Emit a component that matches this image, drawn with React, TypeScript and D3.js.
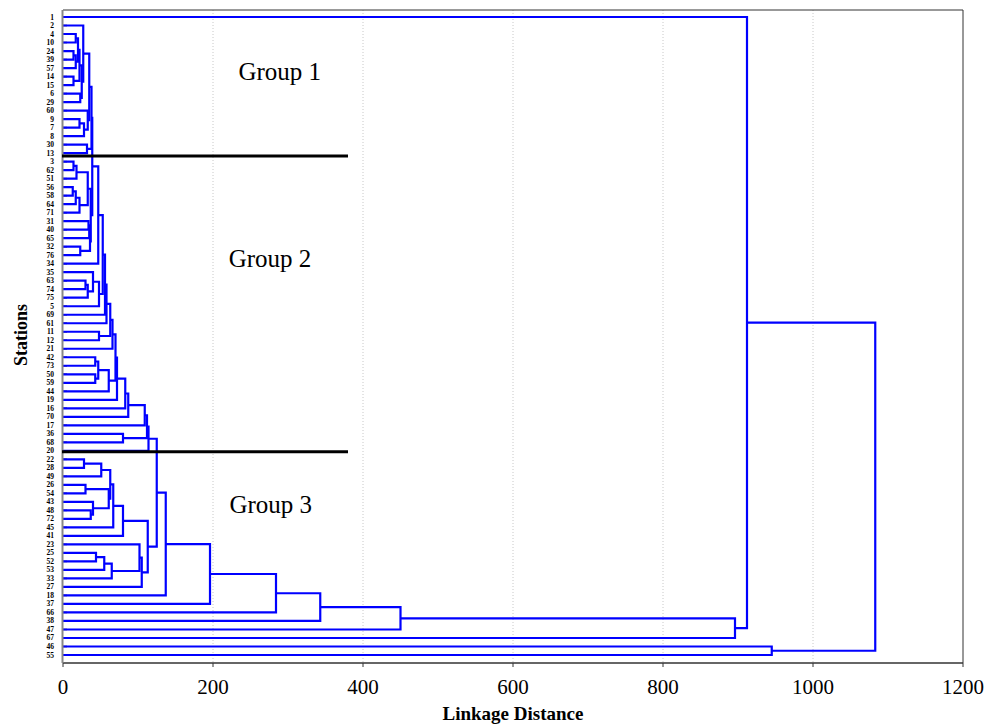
import React from 'react';
import * as d3 from 'd3';

const leafLabels: number[] = [
  1, 2, 4, 10, 24, 39, 57, 14, 15, 6, 29, 60, 9, 7, 8, 30, 13,
  3, 62, 51, 56, 58, 64, 71, 31, 40, 65, 32, 76, 34, 35, 63, 74, 75, 5, 69, 61, 11, 12, 21, 42, 73, 50, 59, 44, 19, 16, 70, 17, 36, 68,
  20, 22, 28, 49, 26, 54, 43, 48, 72, 45, 41, 23, 25, 52, 53, 33, 27, 18, 37, 66, 38, 47, 67, 46, 55,
];

// [id, childA, childB, linkage distance]
const group1Merges: [string, string | number, string | number, number][] = [
  ['a1', 4, 10, 17], ['a2', 24, 39, 14], ['a3', 'a2', 57, 17], ['a4', 'a1', 'a3', 20],
  ['a5', 14, 15, 14], ['a6', 'a4', 'a5', 22], ['a7', 6, 29, 23], ['a8', 'a6', 'a7', 25],
  ['b1', 2, 'a8', 27], ['a9', 9, 7, 22], ['a10', 'a9', 8, 28], ['a11', 60, 'a10', 33],
  ['b2', 'b1', 'a11', 35], ['a13', 30, 13, 32], ['b3', 'b2', 'a13', 38],
];
const group2Merges: [string, string | number, string | number, number][] = [
  ['c1', 3, 62, 14], ['c2', 'c1', 51, 18], ['c3', 56, 58, 13], ['c4', 'c3', 64, 17],
  ['c5', 'c4', 71, 22], ['c6', 'c2', 'c5', 33], ['c7', 32, 76, 23], ['c8', 31, 40, 34],
  ['c9', 'c8', 65, 35], ['c10', 'c9', 'c7', 36], ['c11', 'c6', 'c10', 37], ['c11b', 'b3', 'c11', 39],
  ['c12', 'c11b', 34, 47], ['c13', 63, 74, 30], ['c14', 'c13', 75, 33], ['c15', 35, 'c14', 40],
  ['c16', 'c15', 5, 48], ['c17', 'c12', 'c16', 53], ['c18', 'c17', 69, 56], ['c19', 11, 12, 48],
  ['c20', 'c18', 61, 58], ['c21', 'c20', 'c19', 63], ['c22', 'c21', 21, 66], ['c23', 42, 73, 43],
  ['c24', 50, 59, 43], ['c25', 'c23', 'c24', 47], ['c26', 'c25', 44, 61], ['c27', 'c22', 'c26', 70],
  ['c28', 'c27', 19, 72], ['c29', 'c28', 16, 83], ['c30', 'c29', 70, 87], ['c31', 'c30', 17, 109],
  ['c32', 36, 68, 80], ['c33', 'c31', 'c32', 112], ['c34', 'c33', 20, 114],
];
const group3Merges: [string, string | number, string | number, number][] = [
  ['g1', 22, 28, 28], ['g2', 'g1', 49, 51], ['g3', 26, 54, 30], ['g4', 48, 72, 37],
  ['g5', 43, 'g4', 40], ['g6', 'g3', 'g5', 61], ['g7', 'g2', 'g6', 63], ['g8', 'g7', 45, 67],
  ['g9', 'g8', 41, 80], ['h1', 25, 52, 44], ['h2', 'h1', 53, 55], ['h3', 'h2', 33, 65],
  ['h4', 23, 'h3', 102], ['h5', 'h4', 27, 105], ['h6', 'g9', 'h5', 113],
];
const topMerges: [string, string | number, string | number, number][] = [
  ['k1', 'c34', 'h6', 125], ['k2', 'k1', 18, 137], ['k3', 'k2', 37, 196], ['k4', 'k3', 66, 284],
  ['k5', 'k4', 38, 343], ['k6', 'k5', 47, 450], ['k7', 'k6', 67, 896], ['k8', 1, 'k7', 912],
  ['k9', 46, 55, 945], ['k10', 'k8', 'k9', 1083],
];

const xTicks = [0, 200, 400, 600, 800, 1000, 1200];
const gridTicks = [200, 400, 600, 800, 1000];
const groupNames = ['Group 1', 'Group 2', 'Group 3'];
const groupAnchorLeaves = [14, 34, 48];
const groupAnchorDistance = [289, 276, 277];
const dividerLeaves = [13, 20];
const dividerExtent = [0, 380];

export default function App() {
  const W = 991;
  const H = 724;
  const x = d3.scaleLinear().domain([0, 1200]).range([63, 963]);
  const y = d3.scalePoint<number>().domain(leafLabels).range([17, 655]);

  const pos = new Map<string, { x: number; y: number }>();
  leafLabels.forEach((l) => pos.set(String(l), { x: x(0), y: y(l)! }));
  const allMerges = [...group1Merges, ...group2Merges, ...group3Merges, ...topMerges];
  const paths: string[] = [];
  allMerges.forEach(([id, a, b, h]) => {
    const pa = pos.get(String(a))!;
    const pb = pos.get(String(b))!;
    const nx = x(h);
    const p = d3.path();
    p.moveTo(pa.x, pa.y);
    p.lineTo(nx, pa.y);
    p.lineTo(nx, pb.y);
    p.lineTo(pb.x, pb.y);
    paths.push(p.toString());
    pos.set(id, { x: nx, y: (pa.y + pb.y) / 2 });
  });

  const dividerY = [y(dividerLeaves[0])! + 3, y(dividerLeaves[1])! + 1];
  const top = 10;
  const bottom = 663;

  return (
    <svg width={W} height={H} style={{ position: 'absolute', left: 0, top: 0, background: '#fff' }}
      fontFamily="'Liberation Serif', 'Times New Roman', serif">
      <rect x={0} y={0} width={W} height={H} fill="#fff" />
      {gridTicks.map((t) => (
        <line key={t} x1={x(t)} x2={x(t)} y1={top} y2={bottom} stroke="#c8c8c8" strokeWidth={1} strokeDasharray="1,2" />
      ))}
      <line x1={x(0)} x2={x(1200)} y1={top} y2={top} stroke="#333" strokeWidth={1} />
      <line x1={x(1200)} x2={x(1200)} y1={top} y2={bottom} stroke="#333" strokeWidth={1} />
      <line x1={x(0)} x2={x(1200)} y1={bottom} y2={bottom} stroke="#333" strokeWidth={1.5} />
      {leafLabels.map((l) => (
        <line key={'t' + l} x1={x(0)} x2={x(0) + 4} y1={y(l)!} y2={y(l)!} stroke="#222" strokeWidth={1.5} />
      ))}
      {paths.map((d, i) => (
        <path key={i} d={d} fill="none" stroke="#0000ff" strokeWidth={2.2} />
      ))}
      <line x1={x(0) - 0.5} x2={x(0) - 0.5} y1={top} y2={bottom} stroke="#888" strokeWidth={2} />
      {dividerY.map((dy, i) => (
        <line key={'d' + i} x1={x(dividerExtent[0]) - 1} x2={x(dividerExtent[1])} y1={dy} y2={dy} stroke="#000" strokeWidth={3} />
      ))}
      {groupNames.map((g, i) => (
        <text key={g} x={x(groupAnchorDistance[i])} y={y(groupAnchorLeaves[i])! + 3} fontSize={25} textAnchor="middle" fill="#000">{g}</text>
      ))}
      {leafLabels.map((l) => (
        <text key={'l' + l} x={54} y={y(l)! + 2.5} fontSize={7.5} fontWeight="bold" textAnchor="end" fill="#000">{l}</text>
      ))}
      {xTicks.map((t) => (
        <g key={'x' + t}>
          <line x1={x(t)} x2={x(t)} y1={bottom} y2={bottom + 4} stroke="#333" />
          <text x={x(t)} y={bottom + 31} fontSize={21} textAnchor="middle" fill="#000">{t}</text>
        </g>
      ))}
      <text x={513} y={720} fontSize={19} fontWeight="bold" textAnchor="middle" fill="#000">Linkage Distance</text>
      <text transform="translate(27,335) rotate(-90)" fontSize={18} fontWeight="bold" textAnchor="middle" fill="#000">Stations</text>
    </svg>
  );
}
